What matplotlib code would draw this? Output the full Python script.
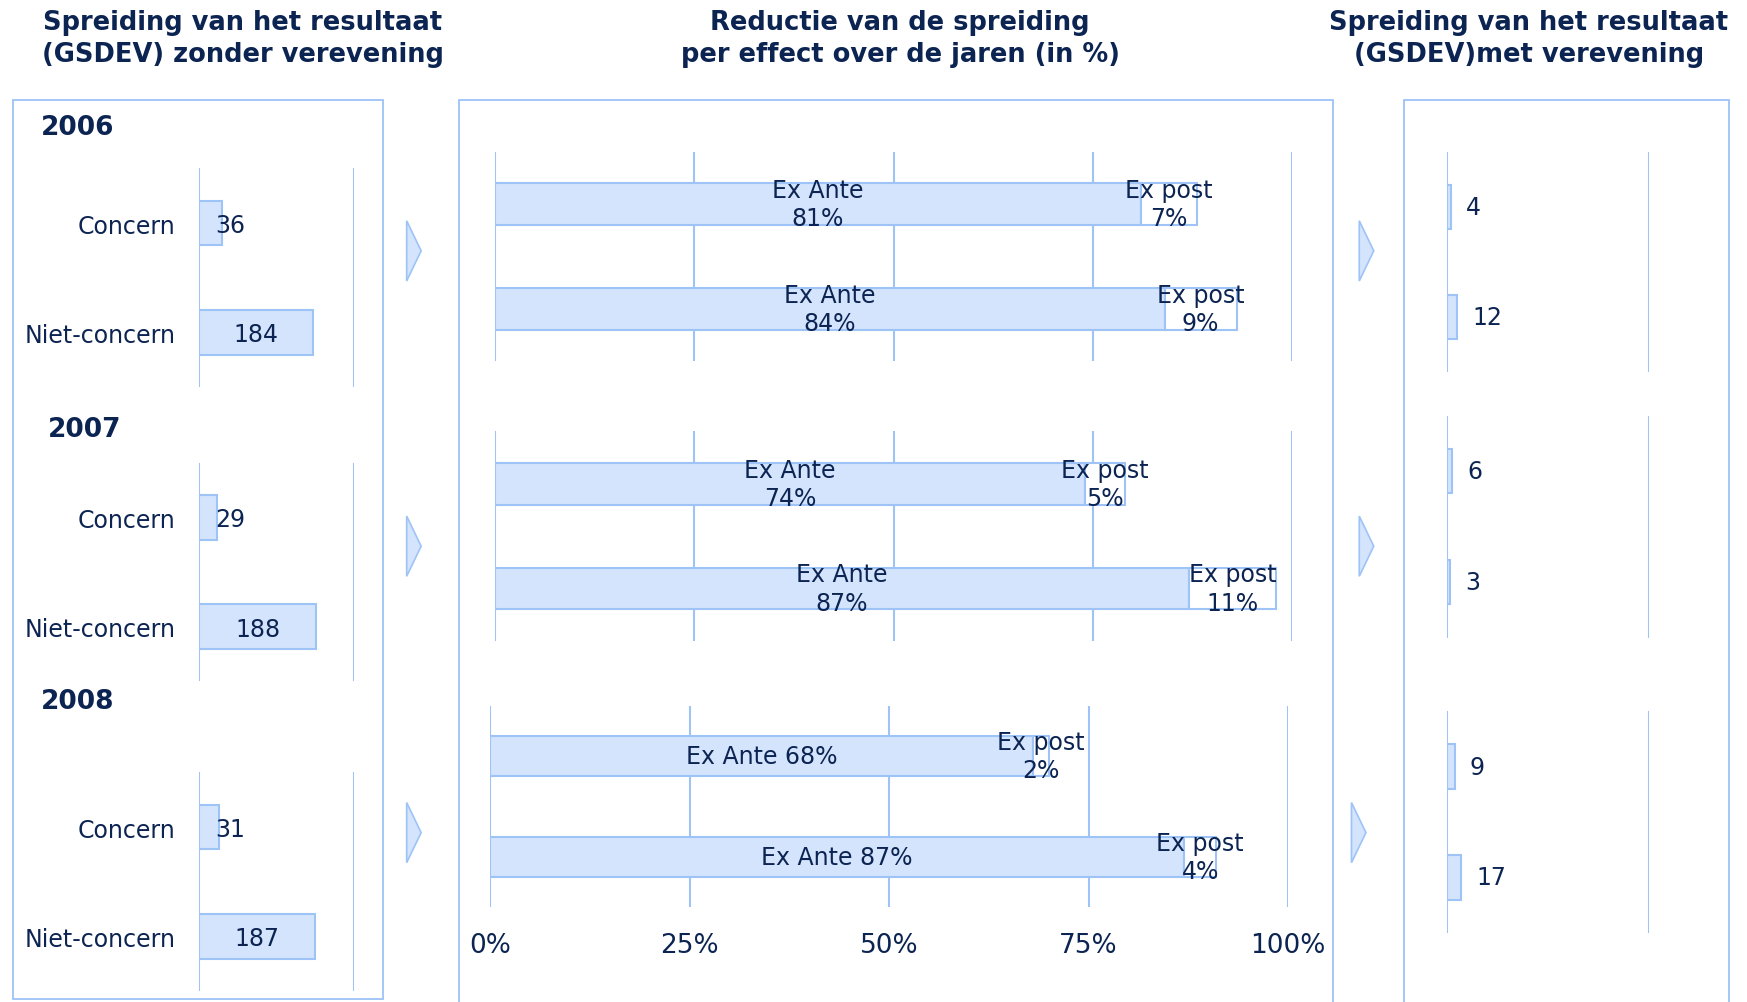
import matplotlib.pyplot as plt
from matplotlib.patches import Rectangle, Polygon

# data
years = ['2006', '2007', '2008']
categories = ['Concern', 'Niet-concern']
spread_without = [[36, 184], [29, 188], [31, 187]]
ex_ante = [[81, 84], [74, 87], [68, 87]]
ex_post = [[7, 9], [5, 11], [2, 4]]
spread_with = [[4, 12], [6, 3], [9, 17]]
pct_ticks = [0, 25, 50, 75, 100]
pct_labels = ['0%', '25%', '50%', '75%', '100%']

navy = '#0c2452'
fill = '#d4e4fd'
edge = '#9dc3f7'
fs = 17

# layout is laid out on a 1568 x 900 grid
W, H = 1568.0, 900.0
fig = plt.figure(figsize=(17.47, 10.03), dpi=100)


def rect(x0, y0, x1, y1):
    return [x0 / W, 1 - y1 / H, (x1 - x0) / W, (y1 - y0) / H]


def fx(x):
    return x / W


def fy(y):
    return 1 - y / H


# titles
titles = [(218, 'Spreiding van het resultaat\n(GSDEV) zonder verevening'),
          (808, 'Reductie van de spreiding\nper effect over de jaren (in %)'),
          (1372, 'Spreiding van het resultaat\n(GSDEV)met verevening')]
for tx, t in titles:
    fig.text(fx(tx), fy(35), t, ha='center', va='center', fontsize=18.5,
             fontweight='bold', color=navy, linespacing=1.3)

# panel frames
for x0, y0, x1, y1 in [(12, 91, 344, 897), (412, 91, 1196, 905), (1260, 91, 1552, 905)]:
    fig.add_artist(Rectangle((fx(x0), fy(y1)), fx(x1 - x0), (y1 - y0) / H,
                             transform=fig.transFigure, fill=False,
                             edgecolor=edge, linewidth=1.3))

# arrows between the panels
arrows = [(365, 226), (365, 491), (365, 748), (1220, 226), (1220, 491), (1213, 748)]
for ax0, ay in arrows:
    pts = [(fx(ax0), fy(ay - 27)), (fx(ax0 + 13), fy(ay)), (fx(ax0), fy(ay + 27))]
    fig.add_artist(Polygon(pts, closed=True, transform=fig.transFigure,
                           facecolor=fill, edgecolor=edge, linewidth=1.2))

year_pos = [(37, 115), (43, 386), (37, 630)]
left_rows = [(152, 348), (416, 612), (694, 890)]
mid_rows = [(444, 137, 325), (444, 388, 576), (440, 634, 815)]
right_rows = [(137, 335), (374, 573), (639, 838)]


def style(ax, xlim, ticks):
    ax.set_xlim(*xlim)
    ax.set_ylim(1.5, -0.5)
    ax.set_xticks(ticks)
    ax.grid(axis='x', color=edge, linewidth=1.5)
    ax.set_axisbelow(True)
    for s in ax.spines.values():
        s.set_visible(False)
    ax.tick_params(length=0, labelbottom=False)
    ax.set_yticks([])


ypos = [0, 1]
for i, yr in enumerate(years):
    fig.text(fx(year_pos[i][0]), fy(year_pos[i][1]), yr, ha='left', va='center',
             fontsize=19, fontweight='bold', color=navy)

    # left: spread without equalisation
    top, bot = left_rows[i]
    ax = fig.add_axes(rect(179, top, 318, bot))
    style(ax, (0, 250), [0, 250])
    ax.barh(ypos, spread_without[i], height=0.41, color=fill, edgecolor=edge, linewidth=1.5)
    ax.set_yticks(ypos)
    ax.set_yticklabels(categories, fontsize=fs, color=navy)
    ax.tick_params(axis='y', pad=17)
    for y, v in zip(ypos, spread_without[i]):
        ax.text(max(v / 2, 50), y + 0.02, str(v), ha='center', va='center',
                fontsize=fs, color=navy)

    # middle: reduction per effect
    x0, top, bot = mid_rows[i]
    ax = fig.add_axes(rect(x0, top, x0 + 716, bot))
    style(ax, (0, 100), pct_ticks)
    ax.barh(ypos, ex_ante[i], height=0.4, color=fill, edgecolor=edge, linewidth=1.5)
    ax.barh(ypos, ex_post[i], left=ex_ante[i], height=0.4, color='white',
            edgecolor=edge, linewidth=1.5)
    for y, a, p in zip(ypos, ex_ante[i], ex_post[i]):
        sep = ' ' if yr == '2008' else '\n'
        ax.text(a / 2, y, 'Ex Ante' + sep + f'{a}%', ha='center', va='center',
                fontsize=fs, color=navy, linespacing=1.22)
        ax.text(a + p / 2, y, f'Ex post\n{p}%', ha='center', va='center',
                fontsize=fs, color=navy, linespacing=1.22)
    if i == len(years) - 1:
        ax.tick_params(labelbottom=True, pad=18, labelsize=19, labelcolor=navy)
        ax.set_xticklabels(pct_labels)

    # right: spread with equalisation
    top, bot = right_rows[i]
    ax = fig.add_axes(rect(1299, top, 1480, bot))
    style(ax, (0, 250), [0, 250])
    ax.barh(ypos, spread_with[i], height=0.4, color=fill, edgecolor=edge, linewidth=1.5)
    for y, v in zip(ypos, spread_with[i]):
        ax.annotate(str(v), (v, y), xytext=(11, 0), textcoords='offset points',
                    ha='left', va='center', fontsize=fs, color=navy)

fig.savefig('out.png', dpi=100)
